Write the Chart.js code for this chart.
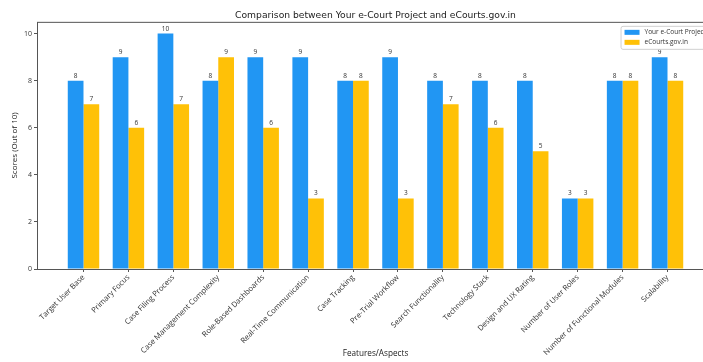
<!DOCTYPE html>
<html>
<head>
<meta charset="utf-8">
<script src="https://cdn.jsdelivr.net/npm/chart.js@4/dist/chart.umd.min.js"></script>
<style>
    html, body { margin: 0; padding: 0; background: #fff; overflow: hidden; }
    #wrap { width: 716px; height: 362px; }
</style>
</head>
<body>
<div id="wrap"><canvas id="compareChart" width="716" height="362"></canvas></div>
<script>
// Features compared (x axis)
const features = [
    'Target User Base', 'Primary Focus', 'Case Filing Process', 'Case Management Complexity',
    'Role-Based Dashboards', 'Real-Time Communication', 'Case Tracking', 'Pre-Trial Workflow',
    'Search Functionality', 'Technology Stack', 'Design and UX Rating', 'Number of User Roles',
    'Number of Functional Modules', 'Scalability'
];
// Scores (out of 10)
const yourProject = [8, 9, 10, 8, 9, 9, 8, 9, 8, 8, 8, 3, 8, 9];
const eCourts = [7, 6, 7, 9, 6, 3, 8, 3, 7, 6, 5, 3, 8, 8];
const yTicks = [0, 2, 4, 6, 8, 10];

const blue = '#2196F3';
const yellow = '#FFC107';
const ink = '#333';

// frame round the plot (all four spines)
const framePlugin = {
    id: 'frame',
    afterDatasetsDraw(chart) {
        const { ctx, chartArea: a } = chart;
        ctx.save();
        ctx.strokeStyle = '#555';
        ctx.lineWidth = 1;
        ctx.strokeRect(a.left + 0.5, a.top + 0.5, a.right - a.left, a.bottom - a.top);
        ctx.restore();
    }
};

// numbers on top of the bars
const valueLabels = {
    id: 'valueLabels',
    afterDatasetsDraw(chart) {
        const ctx = chart.ctx;
        ctx.save();
        ctx.font = '6.5px "Open Sans"';
        ctx.fillStyle = ink;
        ctx.textAlign = 'center';
        ctx.textBaseline = 'bottom';
        chart.data.datasets.forEach((ds, i) => {
            chart.getDatasetMeta(i).data.forEach((bar, j) => {
                ctx.fillText(ds.data[j].y, bar.x, bar.y - 1.5);
            });
        });
        ctx.restore();
    }
};

// legend box in the upper right corner, inside the axes
const cornerLegend = {
    id: 'cornerLegend',
    afterDraw(chart) {
        const { ctx, chartArea: a } = chart;
        const dsets = chart.data.datasets;
        ctx.save();
        ctx.font = '6.5px "Open Sans"';
        const textW = Math.max(...dsets.map(d => ctx.measureText(d.label).width));
        const w = 4 + 15 + 5 + textW + 4;
        const h = 23;
        const x = a.right - 4 - w;
        const y = a.top + 4;
        ctx.fillStyle = 'rgba(255,255,255,0.8)';
        ctx.strokeStyle = '#d0d0d0';
        ctx.lineWidth = 1;
        ctx.beginPath();
        ctx.roundRect(x + 0.5, y + 0.5, w, h, 2);
        ctx.fill();
        ctx.stroke();
        ctx.textBaseline = 'middle';
        dsets.forEach((d, i) => {
            const cy = y + 6.5 + i * 10;
            ctx.fillStyle = d.backgroundColor;
            ctx.fillRect(x + 4, cy - 2.5, 15, 5);
            ctx.fillStyle = ink;
            ctx.fillText(d.label, x + 24, cy);
        });
        ctx.restore();
    }
};

const ctx = document.getElementById('compareChart').getContext('2d');
new Chart(ctx, {
    type: 'bar',
    data: {
        datasets: [
            {
                label: 'Your e-Court Project',
                data: yourProject.map((v, i) => ({ x: i, y: v })),
                backgroundColor: blue,
                borderWidth: 0
            },
            {
                label: 'eCourts.gov.in',
                data: eCourts.map((v, i) => ({ x: i, y: v })),
                backgroundColor: yellow,
                borderWidth: 0
            }
        ]
    },
    options: {
        responsive: false,
        animation: false,
        categoryPercentage: 0.7,
        barPercentage: 1.0,
        layout: { padding: { left: 0, right: 2, top: 0, bottom: 0 } },
        plugins: {
            legend: { display: false },
            tooltip: { enabled: false },
            title: {
                display: true,
                fullSize: false,
                text: 'Comparison between Your e-Court Project and eCourts.gov.in',
                color: '#222',
                font: { family: 'DejaVu Sans', size: 9.2, weight: 'normal' },
                padding: { top: 10, bottom: 0.8 }
            }
        },
        scales: {
            x: {
                type: 'linear',
                offset: false,
                min: -1.035,
                max: 14.035,
                afterBuildTicks: (scale) => {
                    scale.ticks = features.map((_, i) => ({ value: i }));
                },
                afterFit: (scale) => { scale.height = 93; },
                ticks: {
                    autoSkip: false,
                    minRotation: 45,
                    maxRotation: 45,
                    padding: 1,
                    color: ink,
                    font: { family: 'Open Sans', size: 7.6 },
                    callback: (v) => features[v]
                },
                grid: { offset: false, drawOnChartArea: false, drawTicks: true, tickLength: 3, color: '#555' },
                border: { display: false },
                title: {
                    display: true,
                    text: 'Features/Aspects',
                    color: '#222',
                    font: { family: 'Open Sans', size: 8.2 },
                    padding: { top: 0, bottom: 3 }
                }
            },
            y: {
                min: 0,
                max: 10.5,
                afterBuildTicks: (scale) => {
                    scale.ticks = yTicks.map(v => ({ value: v }));
                },
                afterFit: (scale) => { scale.width = 37; },
                ticks: {
                    padding: 2,
                    color: ink,
                    font: { family: 'Open Sans', size: 7 }
                },
                grid: { drawOnChartArea: false, drawTicks: true, tickLength: 3, color: '#555' },
                border: { display: false },
                title: {
                    display: true,
                    text: 'Scores (Out of 10)',
                    color: '#222',
                    font: { family: 'Open Sans', size: 8 },
                    padding: { top: 10, bottom: 0 }
                }
            }
        }
    },
    plugins: [framePlugin, valueLabels, cornerLegend]
});
</script>
</body>
</html>
